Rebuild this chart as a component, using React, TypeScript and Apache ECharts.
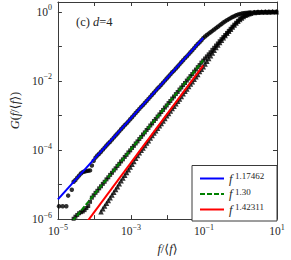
import React, { useEffect, useRef } from 'react';
import * as echarts from 'echarts';

// log10 of f/<f> bin centres shared by the three data sets
const fBinsLog = [
  -4.97, -4.92, -4.87, -4.82, -4.77, -4.72, -4.67, -4.62, -4.57, -4.52,
  -4.47, -4.42, -4.37, -4.32, -4.27, -4.22, -4.17, -4.12, -4.07, -4.02,
  -3.97, -3.92, -3.87, -3.82, -3.77, -3.72, -3.67, -3.62, -3.57, -3.52,
  -3.47, -3.42, -3.37, -3.32, -3.27, -3.22, -3.17, -3.12, -3.07, -3.02,
  -2.97, -2.92, -2.87, -2.82, -2.77, -2.72, -2.67, -2.62, -2.57, -2.52,
  -2.47, -2.42, -2.37, -2.32, -2.27, -2.22, -2.17, -2.12, -2.07, -2.02,
  -1.97, -1.92, -1.87, -1.82, -1.77, -1.72, -1.67, -1.62, -1.57, -1.52,
  -1.47, -1.42, -1.37, -1.32, -1.27, -1.22, -1.17, -1.12, -1.07, -1.02,
  -0.97, -0.92, -0.87, -0.82, -0.77, -0.72, -0.67, -0.62, -0.57, -0.52,
  -0.47, -0.42, -0.37, -0.32, -0.27, -0.22, -0.17, -0.12, -0.07, -0.02,
  0.03, 0.08, 0.13, 0.18, 0.23, 0.28, 0.38, 0.48, 0.58, 0.68,
  0.78, 0.88, 0.98,
];

// log10 G for circles (upper data set)
const circleLogG = [
  -5.63, null, -5.63, null, -5.63, -5.32, null, -5.15, -4.92, -4.87,
  -4.80, -4.74, -4.68, -4.64, -4.62, -4.61, -4.60, -4.59, -4.45, -4.31,
  -4.22, -4.16, -4.11, -4.05, -3.99, -3.93, -3.87, -3.81, -3.76, -3.70,
  -3.64, -3.58, -3.52, -3.46, -3.40, -3.34, -3.28, -3.23, -3.17, -3.11,
  -3.05, -2.99, -2.93, -2.87, -2.81, -2.75, -2.70, -2.64, -2.58, -2.52,
  -2.46, -2.40, -2.34, -2.28, -2.22, -2.17, -2.11, -2.05, -1.99, -1.93,
  -1.87, -1.81, -1.75, -1.70, -1.64, -1.58, -1.52, -1.46, -1.40, -1.34,
  -1.29, -1.23, -1.17, -1.11, -1.05, -0.99, -0.93, -0.88, -0.82, -0.76,
  -0.715, -0.67, -0.63, -0.59, -0.55, -0.51, -0.47, -0.43, -0.39, -0.35,
  -0.31, -0.275, -0.24, -0.21, -0.18, -0.15, -0.125, -0.10, -0.08, -0.065,
  -0.05, -0.04, -0.035, -0.028, -0.022, -0.017, -0.01, -0.006, -0.003, -0.001,
  0, 0, 0,
];

// log10 G for squares (middle data set)
const squareLogG = [
  null, null, null, null, null, null, null, null, -5.99, -5.93,
  -5.88, -5.83, -5.80, -5.78, -5.74, -5.68, -5.62, -5.50, -5.38, -5.31,
  -5.24, -5.18, -5.11, -5.05, -4.98, -4.92, -4.85, -4.79, -4.72, -4.66,
  -4.59, -4.53, -4.46, -4.40, -4.33, -4.27, -4.20, -4.14, -4.07, -4.01,
  -3.94, -3.88, -3.81, -3.75, -3.68, -3.62, -3.55, -3.49, -3.42, -3.36,
  -3.29, -3.23, -3.16, -3.10, -3.03, -2.97, -2.90, -2.84, -2.77, -2.71,
  -2.64, -2.58, -2.51, -2.45, -2.38, -2.32, -2.25, -2.19, -2.12, -2.06,
  -1.99, -1.93, -1.86, -1.80, -1.73, -1.67, -1.60, -1.54, -1.47, -1.41,
  -1.35, -1.29, -1.23, -1.17, -1.10, -1.04, -0.975, -0.915, -0.85, -0.79,
  -0.73, -0.67, -0.61, -0.55, -0.49, -0.43, -0.37, -0.315, -0.26, -0.21,
  -0.17, -0.13, -0.10, -0.075, -0.055, -0.04, -0.02, -0.01, -0.005, -0.002,
  -0.001, 0, 0,
];

// log10 G for triangles (lower data set)
const triangleLogG = [
  null, null, null, null, null, null, null, null, null, null,
  null, null, null, null, null, null, null, null, null, null,
  null, null, null, -5.79, -5.70, -5.62, -5.54, -5.46, -5.38, -5.30,
  -5.22, -5.14, -5.06, -4.98, -4.89, -4.81, -4.73, -4.65, -4.57, -4.49,
  -4.41, -4.33, -4.24, -4.16, -4.08, -4.01, -3.94, -3.87, -3.80, -3.73,
  -3.65, -3.58, -3.51, -3.44, -3.37, -3.30, -3.23, -3.16, -3.09, -3.01,
  -2.94, -2.87, -2.80, -2.73, -2.66, -2.59, -2.52, -2.45, -2.37, -2.30,
  -2.23, -2.16, -2.09, -2.02, -1.95, -1.88, -1.81, -1.73, -1.66, -1.59,
  -1.51, -1.43, -1.35, -1.27, -1.19, -1.11, -1.035, -0.96, -0.89, -0.82,
  -0.75, -0.685, -0.62, -0.56, -0.50, -0.44, -0.38, -0.32, -0.27, -0.22,
  -0.175, -0.135, -0.10, -0.075, -0.055, -0.04, -0.02, -0.01, -0.005, -0.002,
  -0.001, 0, 0,
];

// power-law fits: end points (f, G)
const fitNames = ['f^1.17462', 'f^1.30', 'f^1.42311'];
const fitBlueF = [1e-5, 0.0955];
const fitBlueG = [3.72e-6, 0.176];
const fitGreenF = [2.51e-5, 0.0955];
const fitGreenG = [8.7e-7, 0.0393];
const fitRedF = [6.31e-5, 0.0955];
const fitRedG = [8.4e-7, 0.0281];

// axes
const xMin = 1e-5;
const xMax = 10;
const yMin = 1e-6;
const yMax = 1.93;

const SERIF = '"Liberation Serif", "DejaVu Serif", serif';
const TXT = '#262626';
const AX = '#3a3a3a';

const toPoints = (logG: (number | null)[]) =>
  fBinsLog
    .map((lf, i) => (logG[i] == null ? null : [Math.pow(10, lf), Math.pow(10, logG[i] as number)]))
    .filter((p) => p !== null);

const pair = (fs: number[], gs: number[]) => fs.map((f, i) => [f, gs[i]]);

const powLabel = (v: number, wantOdd: boolean) => {
  const lg = Math.log10(v);
  const e = Math.round(lg);
  if (Math.abs(lg - e) > 1e-6) return '';
  const odd = Math.abs(e % 2) === 1;
  if (odd !== wantOdd) return '';
  const s = e < 0 ? '\u2212' + -e : String(e);
  return `{b|10}{s|${s}}`;
};

const tickRich = {
  b: { fontFamily: SERIF, fontSize: 11.5, color: TXT, lineHeight: 16 },
  s: { fontFamily: SERIF, fontSize: 8, color: TXT, lineHeight: 11, verticalAlign: 'top' },
};

const nameRich = {
  n: { fontFamily: SERIF, fontSize: 12.5, color: TXT, fontWeight: 'normal' },
  i: { fontFamily: SERIF, fontSize: 12.5, color: TXT, fontStyle: 'italic', fontWeight: 'normal' },
};

export default function App() {
  const ref = useRef<HTMLDivElement>(null);
  useEffect(() => {
    if (!ref.current) return;
    const chart = echarts.init(ref.current, undefined, { renderer: 'svg' });
    const axisCommon = {
      axisLine: { show: true, lineStyle: { color: AX, width: 1 } },
      axisTick: { show: true, inside: true, length: 4, lineStyle: { color: AX, width: 1 } },
      splitLine: { show: false },
    };
    const option: any = {
      animation: false,
      backgroundColor: '#fff',
      title: {
        text: '{n|(c) }{i|d}{n|=4}',
        left: 76,
        top: 15,
        padding: 0,
        textStyle: { fontWeight: 'normal', rich: nameRich },
      },
      grid: { left: 57, right: 14, top: 2, bottom: 39 },
      legend: {
        data: fitNames,
        orient: 'vertical',
        right: 14,
        bottom: 39,
        padding: [6, 6, 5, 7],
        itemWidth: 24,
        itemHeight: 14,
        itemGap: 2,
        backgroundColor: '#fff',
        borderColor: AX,
        borderWidth: 1,
        borderRadius: 0,
        itemStyle: { opacity: 0 },
        lineStyle: { width: 2 },
        formatter: (name: string) => {
          const p = name.split('^');
          return `{f|${p[0]}}{e|${p[1]}}`;
        },
        textStyle: {
          rich: {
            f: { fontFamily: SERIF, fontSize: 12.5, fontStyle: 'italic', color: TXT, lineHeight: 14, width: 6 },
            e: { fontFamily: SERIF, fontSize: 9, color: TXT, lineHeight: 10, verticalAlign: 'top', width: 36 },
          },
        },
      },
      xAxis: [
        {
          type: 'log',
          logBase: 10,
          min: xMin,
          max: xMax,
          position: 'bottom',
          name: '{i|f}{n|/\u27E8}{i|f}{n|\u27E9}',
          nameLocation: 'middle',
          nameGap: 14,
          nameTextStyle: { rich: nameRich },
          ...axisCommon,
          axisLabel: { margin: 4, formatter: (v: number) => powLabel(v, true), rich: tickRich },
        },
        {
          type: 'log',
          logBase: 10,
          min: xMin,
          max: xMax,
          position: 'top',
          ...axisCommon,
          axisLabel: { show: false },
        },
      ],
      yAxis: [
        {
          type: 'log',
          logBase: 10,
          min: yMin,
          max: yMax,
          position: 'left',
          name: '{i|G}{n|(}{i|f}{n|/\u27E8}{i|f}{n|\u27E9)}',
          nameLocation: 'middle',
          nameRotate: 90,
          nameGap: 30,
          nameTextStyle: { rich: nameRich },
          ...axisCommon,
          axisLabel: { margin: 6, formatter: (v: number) => powLabel(v, false), rich: tickRich },
        },
        {
          type: 'log',
          logBase: 10,
          min: yMin,
          max: yMax,
          position: 'right',
          ...axisCommon,
          axisLabel: { show: false },
        },
      ],
      series: [
        {
          type: 'scatter',
          name: 'circles',
          data: toPoints(circleLogG),
          symbol: 'circle',
          symbolSize: 4.5,
          itemStyle: { color: '#000' },
          z: 2,
        },
        {
          type: 'scatter',
          name: 'squares',
          data: toPoints(squareLogG),
          symbol: 'rect',
          symbolSize: 4,
          itemStyle: { color: '#000' },
          z: 2,
        },
        {
          type: 'scatter',
          name: 'triangles',
          data: toPoints(triangleLogG),
          symbol: 'triangle',
          symbolSize: 5.5,
          itemStyle: { color: '#000' },
          z: 2,
        },
        {
          type: 'line',
          name: fitNames[0],
          data: pair(fitBlueF, fitBlueG),
          showSymbol: false,
          symbol: 'none',
          lineStyle: { color: '#0000ff', width: 2 },
          itemStyle: { color: '#0000ff' },
          z: 3,
        },
        {
          type: 'line',
          name: fitNames[1],
          data: pair(fitGreenF, fitGreenG),
          showSymbol: false,
          symbol: 'none',
          lineStyle: { color: '#008000', width: 2, type: [5, 2] },
          itemStyle: { color: '#008000' },
          z: 3,
        },
        {
          type: 'line',
          name: fitNames[2],
          data: pair(fitRedF, fitRedG),
          showSymbol: false,
          symbol: 'none',
          lineStyle: { color: '#ff0000', width: 2 },
          itemStyle: { color: '#ff0000' },
          z: 3,
        },
      ],
    };
    chart.setOption(option);
    return () => chart.dispose();
  }, []);
  return (
    <div
      ref={ref}
      style={{ position: 'fixed', left: 0, top: 0, width: 291, height: 260, background: '#fff' }}
    />
  );
}
